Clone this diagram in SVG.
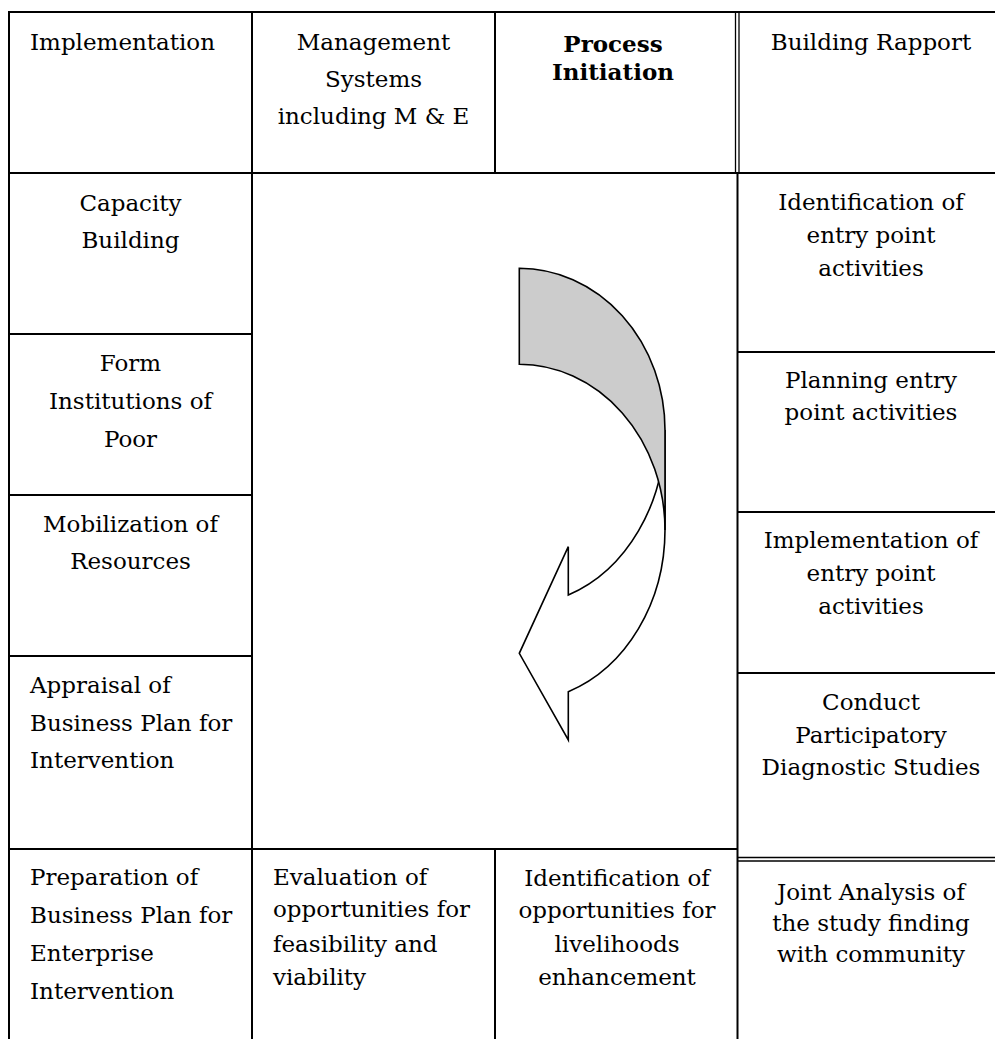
<svg xmlns="http://www.w3.org/2000/svg" width="995" height="1039" viewBox="0 0 995 1039">
<style>
.l{stroke:#000;stroke-width:2;fill:none}
.d{stroke:#000;stroke-width:1.3;fill:none}
.t{font-family:"DejaVu Serif","Liberation Serif",serif;font-size:23px;fill:#000}
.c{text-anchor:middle}
.b{font-weight:bold}
.arrow{stroke:#000;stroke-width:1.6;stroke-linejoin:miter}
</style>
<rect width="995" height="1039" fill="#fff"/>
<g id="grid">
<line class="l" x1="9" y1="12" x2="995" y2="12"/>
<line class="l" x1="9" y1="11" x2="9" y2="1039"/>
<line class="l" x1="252" y1="12" x2="252" y2="1039"/>
<line class="l" x1="495" y1="12" x2="495" y2="173"/>
<line class="l" x1="495" y1="849" x2="495" y2="1039"/>
<line class="d" x1="735.5" y1="12" x2="735.5" y2="173"/>
<line class="d" x1="739" y1="12" x2="739" y2="173"/>
<line class="l" x1="737.5" y1="173" x2="737.5" y2="1039"/>
<line class="l" x1="9" y1="173" x2="995" y2="173"/>
<line class="l" x1="9" y1="334" x2="252" y2="334"/>
<line class="l" x1="9" y1="495" x2="252" y2="495"/>
<line class="l" x1="9" y1="656" x2="252" y2="656"/>
<line class="l" x1="9" y1="849" x2="737" y2="849"/>
<line class="l" x1="737" y1="352" x2="995" y2="352"/>
<line class="l" x1="737" y1="512" x2="995" y2="512"/>
<line class="l" x1="737" y1="673" x2="995" y2="673"/>
<line class="d" x1="737" y1="857.5" x2="995" y2="857.5"/>
<line class="d" x1="737" y1="861" x2="995" y2="861"/>
</g>
<g id="connectors">
<path class="arrow" fill="#fff" d="M665,430 A146,175 0 0 1 568.3,595 L568.3,546.7 L519.3,653.3 L568.3,740 L568.3,691.7 A146,172 0 0 0 665,530 Z"/>
<path class="arrow" fill="#cccccc" d="M519.3,268.3 A146,162 0 0 1 665,430 L665,530 A146,166 0 0 0 519.3,364.3 Z"/>
</g>
<g id="n-implementation"><text class="t" x="30" y="50">Implementation</text></g>
<g id="n-management"><text class="t c" x="373.5" y="50">Management</text><text class="t c" x="373.5" y="87">Systems</text><text class="t c" x="373.5" y="124">including M &amp; E</text></g>
<g id="n-process"><text class="t c b" x="613" y="52">Process</text><text class="t c b" x="613" y="80">Initiation</text></g>
<g id="n-rapport"><text class="t c" x="871" y="50">Building Rapport</text></g>
<g id="n-capacity"><text class="t c" x="130.5" y="211">Capacity</text><text class="t c" x="130.5" y="248">Building</text></g>
<g id="n-form"><text class="t c" x="130.5" y="371">Form</text><text class="t c" x="130.5" y="409">Institutions of</text><text class="t c" x="130.5" y="447">Poor</text></g>
<g id="n-mobilization"><text class="t c" x="130.5" y="532">Mobilization of</text><text class="t c" x="130.5" y="569">Resources</text></g>
<g id="n-appraisal"><text class="t" x="30" y="693">Appraisal of</text><text class="t" x="30" y="731">Business Plan for</text><text class="t" x="30" y="768">Intervention</text></g>
<g id="n-preparation"><text class="t" x="30" y="885">Preparation of</text><text class="t" x="30" y="923">Business Plan for</text><text class="t" x="30" y="961">Enterprise</text><text class="t" x="30" y="999">Intervention</text></g>
<g id="n-evaluation"><text class="t" x="273" y="885">Evaluation of</text><text class="t" x="273" y="917">opportunities for</text><text class="t" x="273" y="952">feasibility and</text><text class="t" x="273" y="985">viability</text></g>
<g id="n-identification-opp"><text class="t c" x="617" y="886">Identification of</text><text class="t c" x="617" y="918">opportunities for</text><text class="t c" x="617" y="952">livelihoods</text><text class="t c" x="617" y="985">enhancement</text></g>
<g id="n-identification-entry"><text class="t c" x="871" y="210">Identification of</text><text class="t c" x="871" y="243">entry point</text><text class="t c" x="871" y="276">activities</text></g>
<g id="n-planning"><text class="t c" x="871" y="388">Planning entry</text><text class="t c" x="871" y="420">point activities</text></g>
<g id="n-implementation-entry"><text class="t c" x="871" y="548">Implementation of</text><text class="t c" x="871" y="581">entry point</text><text class="t c" x="871" y="614">activities</text></g>
<g id="n-conduct"><text class="t c" x="871" y="710">Conduct</text><text class="t c" x="871" y="743">Participatory</text><text class="t c" x="871" y="775">Diagnostic Studies</text></g>
<g id="n-joint"><text class="t c" x="871" y="900">Joint Analysis of</text><text class="t c" x="871" y="931">the study finding</text><text class="t c" x="871" y="962">with community</text></g>
</svg>
